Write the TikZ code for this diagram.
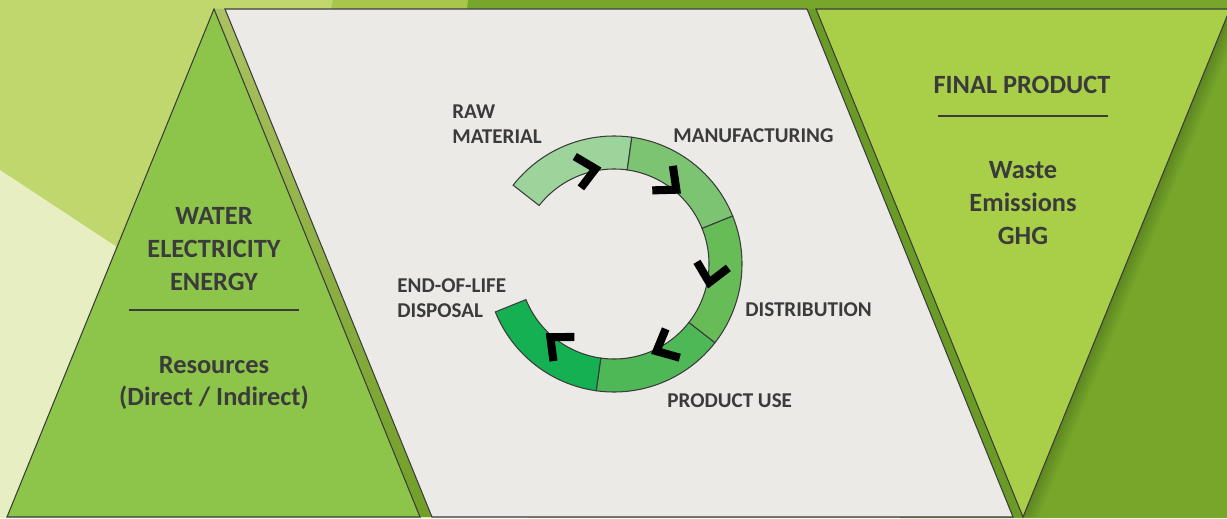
\documentclass[tikz,border=0pt]{standalone}
\usepackage{fontspec}
\setmainfont{Carlito}

\definecolor{bglight}{HTML}{BFD76C}
\definecolor{bgpale}{HTML}{E6EEC2}
\definecolor{bgmid}{HTML}{A8C64B}
\definecolor{bgdark}{HTML}{76A72A}
\definecolor{stripdark}{HTML}{6A9B26}
\definecolor{lefttri}{HTML}{8DC54B}
\definecolor{righttri}{HTML}{A9CF48}
\definecolor{panel}{HTML}{EBEAE6}
\definecolor{ink}{HTML}{3B3B3B}
\definecolor{rawc}{HTML}{9DD49C}
\definecolor{manc}{HTML}{7CC472}
\definecolor{disc}{HTML}{67BC57}
\definecolor{usec}{HTML}{4EB857}
\definecolor{eolc}{HTML}{15B052}

\tikzset{
	outline/.style={draw=ink, line width=0.6pt},
	chev/.style={draw=black, line width=4.6pt, line join=miter},
	bigtext/.style={text=ink, font=\bfseries\fontsize{15}{18.7}\selectfont, align=center},
	smalltext/.style={text=ink, font=\bfseries\fontsize{12}{14.2}\selectfont, align=left, inner sep=0pt, anchor=west}
}

\begin{document}
\begin{tikzpicture}[x=0.02cm, y=0.02cm]
		\useasboundingbox (0,0) rectangle (1227,518);
		\clip (0,0) rectangle (1227,518);
		% background
		\fill[bglight] (0,0) rectangle (1227,518);
		\fill[bgpale] (0,348) -- (528,0) -- (0,0) -- cycle;
		\fill[bgmid] (333,518) -- (470,518) -- (466,495) -- (329,495) -- cycle;
		\fill[bgdark] (468,518) -- (1227,518) -- (1227,0) -- (900,0) -- (466,500) -- cycle;
		\foreach \d in {2,4,...,16}
			\fill[black, opacity=0.025] (1230,509) -- (1023,1) -- (1023+\d,1) -- (1230+\d,509) -- cycle;
		\shade[top color=bglight!90!black, bottom color=bgdark!95!black] (214,509) -- (225,509) -- (432,1) -- (420,1) -- cycle;
		\fill[stripdark] (807,509) -- (816,509) -- (1023,1) -- (1013,1) -- cycle;
		% panels
		\draw[outline, fill=lefttri] (214,509) -- (420,1) -- (7,1) -- cycle;
		\draw[outline, fill=panel] (225,509) -- (807,509) -- (1013,1) -- (432,1) -- cycle;
		\draw[outline, fill=righttri] (816,509) -- (1230,509) -- (1023,1) -- cycle;
		\draw[ink, line width=0.6pt] (129,208) -- (299,208);
		\draw[ink, line width=0.6pt] (938,402) -- (1108,402);
		\begin{scope}[every node/.style={bigtext}]
			\node (inputs) at (214,269) {WATER\\ELECTRICITY\\ENERGY};
			\node (resources) at (214,135) {Resources\\(Direct / Indirect)};
			\node (final) at (1022,433) {FINAL PRODUCT};
			\node (outputs) at (1023,315) {Waste\\Emissions\\GHG};
		\end{scope}
		% life cycle ring
		\coordinate (ring) at (614,254);
		\begin{scope}[shift={(ring)}]
			\foreach \s/\col in {142/rawc,82/manc,22/disc,-38/usec,-98/eolc}
				\draw[outline, fill=\col] (\s:128) arc[start angle=\s, delta angle=-60, radius=128]
					-- (\s-60:95) arc[start angle=\s-60, delta angle=60, radius=95] -- cycle;
			\foreach \a in {101,50,-11,-64,-131}
				\draw[chev, shift={(\a:97)}, rotate=\a-90] (-18,16) -- (0,0) -- (-18,-16);
		\end{scope}
		\begin{scope}[every node/.style={smalltext}]
			\node (raw) at (452,394) {RAW\\MATERIAL};
			\node (manu) at (673,382) {MANUFACTURING};
			\node (dist) at (745,208) {DISTRIBUTION};
			\node (use) at (667,117.5) {PRODUCT USE};
			\node (eol) at (397,220) {END-OF-LIFE\\DISPOSAL};
		\end{scope}
	\end{tikzpicture}
\end{document}
